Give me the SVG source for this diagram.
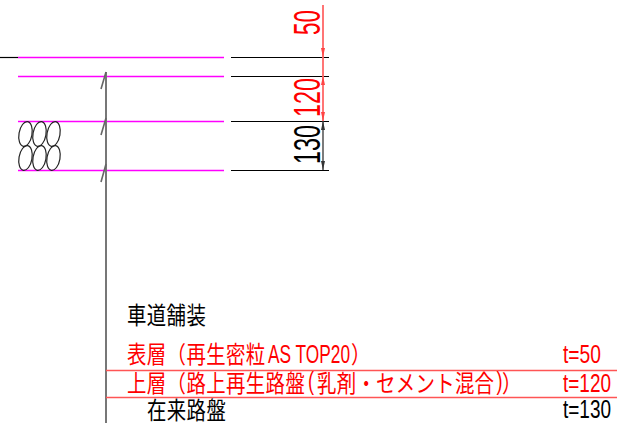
<svg xmlns="http://www.w3.org/2000/svg" width="617" height="423" viewBox="0 0 617 423">
<style>
.m{stroke:#f0f;stroke-width:1.3;fill:none}
.k{stroke:#000;stroke-width:1.2;fill:none}
.g{stroke:#777;stroke-width:2;fill:none}
.t{stroke:#666;stroke-width:1.6;fill:none}
.r{stroke:#f55;stroke-width:1.3;fill:none}
.rd{stroke:#f66;stroke-width:1.8;fill:none}
.kd{stroke:#444;stroke-width:1.4;fill:none}
.e{stroke:#222;stroke-width:1.2;fill:none}
text{font-family:"Noto Sans CJK JP","Liberation Sans",sans-serif;font-size:19.4px}
.d{font-family:"Liberation Sans",sans-serif;font-size:37px}
.l{font-family:"Liberation Sans",sans-serif;font-size:25px}
.red{fill:#f00}
</style>
<rect width="617" height="423" fill="#fff"/>
<g id="pavement-layers">
<path class="k" d="M0 57.5H18"/>
<path class="m" d="M18 57.5H224M18 76.5H224M18 121.5H224M18 170.5H224"/>
<path class="k" d="M231 57.5H329M231 76.5H329M231 121.5H329M231 170.5H329"/>
</g>
<g id="aggregate">
<ellipse class="e" cx="25.5" cy="134" rx="6.5" ry="12.5" transform="rotate(10 25.5 134)"/>
<ellipse class="e" cx="39.5" cy="134" rx="6.5" ry="12.5" transform="rotate(10 39.5 134)"/>
<ellipse class="e" cx="53.5" cy="134" rx="6.5" ry="12.5" transform="rotate(10 53.5 134)"/>
<ellipse class="e" cx="25.5" cy="158" rx="6.5" ry="12.5" transform="rotate(10 25.5 158)"/>
<ellipse class="e" cx="39.5" cy="158" rx="6.5" ry="12.5" transform="rotate(10 39.5 158)"/>
<ellipse class="e" cx="53.5" cy="158" rx="6.5" ry="12.5" transform="rotate(10 53.5 158)"/>
</g>
<g id="connectors">
<path class="g" d="M106 72V423"/>
<path class="t" d="M101 89L106 72M101 135L106 118M101 182L106 164"/>
<path class="rd" d="M323 5V121"/>
<path class="kd" d="M323 121V170"/>
<path fill="#f44" d="M323 57L321 48H325ZM323 76L321 85H325ZM323 121L321 112H325Z"/>
<path fill="#333" d="M323 121L321 130H325ZM323 170L321 161H325Z"/>
</g>
<g id="dimensions">
<text class="d red" transform="translate(319.5 35) rotate(-90)" textLength="25" lengthAdjust="spacingAndGlyphs">50</text>
<text class="d red" transform="translate(319.5 117) rotate(-90)" textLength="39" lengthAdjust="spacingAndGlyphs">120</text>
<text class="d" transform="translate(319.5 164) rotate(-90)" textLength="39" lengthAdjust="spacingAndGlyphs">130</text>
</g>
<g id="table">
<path class="r" d="M106 370.5H617M106 397.5H617"/>
<text transform="translate(0 324) scale(1 1.22)" x="127 146.8 166.6 186.4">車道舗装</text>
<text class="red" transform="translate(0 363) scale(1 1.22)" x="127 146.8 166.6 186.4 206.2 226 245.8">表層（再生密粒</text>
<text class="l red" x="268" y="362.5" textLength="82" lengthAdjust="spacingAndGlyphs">AS TOP20</text>
<text class="red" transform="translate(0 363) scale(1 1.22)" x="351">）</text>
<text class="red" transform="translate(0 392) scale(1 1.22)" x="127 146.8 166.6 186.4 206.2 226 245.8 265.6 285.4">上層（路上再生路盤</text>
<text class="l red" x="308" y="390" textLength="6" lengthAdjust="spacingAndGlyphs">(</text>
<text class="red" transform="translate(0 392) scale(1 1.22)" x="317 336.7 356.4 376.1 395.8 415.5 435.2 454.9 474.6">乳剤・セメント混合</text>
<text class="l red" x="496.5" y="390" textLength="6" lengthAdjust="spacingAndGlyphs">)</text>
<text class="red" transform="translate(0 392) scale(1 1.22)" x="502">）</text>
<text transform="translate(0 419) scale(1 1.22)" x="147 166.8 186.6 206.4">在来路盤</text>
<text class="l red" x="563" y="362.5" textLength="38" lengthAdjust="spacingAndGlyphs">t=50</text>
<text class="l red" x="563" y="391.5" textLength="48" lengthAdjust="spacingAndGlyphs">t=120</text>
<text class="l" x="563" y="418" textLength="48" lengthAdjust="spacingAndGlyphs">t=130</text>
</g>
</svg>
